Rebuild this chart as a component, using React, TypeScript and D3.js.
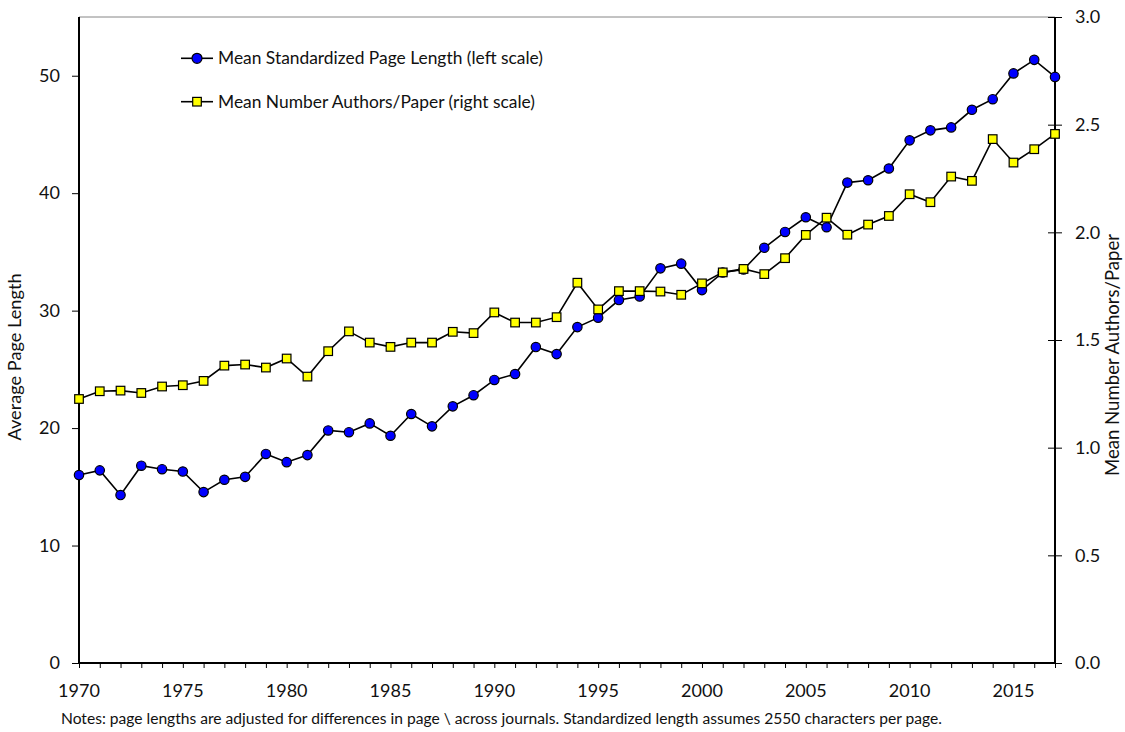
import { useEffect, useRef } from "react";
import * as d3 from "d3";

const years = [
  1970, 1971, 1972, 1973, 1974, 1975, 1976, 1977, 1978, 1979,
  1980, 1981, 1982, 1983, 1984, 1985, 1986, 1987, 1988, 1989,
  1990, 1991, 1992, 1993, 1994, 1995, 1996, 1997, 1998, 1999,
  2000, 2001, 2002, 2003, 2004, 2005, 2006, 2007, 2008, 2009,
  2010, 2011, 2012, 2013, 2014, 2015, 2016, 2017,
];

// mean standardized page length (left scale)
const pageLength = [
  16.0, 16.4, 14.3, 16.8, 16.5, 16.3, 14.55, 15.6, 15.85, 17.8,
  17.1, 17.7, 19.8, 19.65, 20.4, 19.35, 21.2, 20.15, 21.85, 22.8,
  24.1, 24.6, 26.9, 26.3, 28.6, 29.4, 30.9, 31.2, 33.6, 34.0,
  31.75, 33.25, 33.5, 35.35, 36.7, 37.95, 37.1, 40.9, 41.1, 42.1,
  44.5, 45.35, 45.6, 47.1, 48.0, 50.2, 51.35, 49.9,
];

// mean number of authors per paper (right scale)
const authors = [
  1.226, 1.262, 1.265, 1.254, 1.284, 1.29, 1.31, 1.381, 1.386, 1.372,
  1.414, 1.33, 1.448, 1.54, 1.488, 1.468, 1.488, 1.488, 1.538, 1.532,
  1.628, 1.581, 1.581, 1.606, 1.766, 1.642, 1.727, 1.727, 1.725, 1.71,
  1.763, 1.814, 1.83, 1.806, 1.88, 1.988, 2.068, 1.989, 2.036, 2.076,
  2.177, 2.14, 2.259, 2.239, 2.433, 2.324, 2.386, 2.457,
];

const leftTicks = [0, 10, 20, 30, 40, 50];
const rightTicks = [0, 0.5, 1.0, 1.5, 2.0, 2.5, 3.0];
const yearLabels = [1970, 1975, 1980, 1985, 1990, 1995, 2000, 2005, 2010, 2015];

const legendLabels = [
  "Mean Standardized Page Length (left scale)",
  "Mean Number Authors/Paper (right scale)",
];

const note =
  "Notes: page lengths are adjusted for differences in page \\ across journals. Standardized length assumes 2550 characters per page.";

const FONT = "Lato, 'Open Sans', sans-serif";
const INK = "#111";

export default function App() {
  const ref = useRef<SVGSVGElement>(null);

  useEffect(() => {
    document.body.style.margin = "0";
    if (!ref.current) return;
    const svg = d3.select(ref.current);
    svg.selectAll("*").remove();

    const width = 1125;
    const height = 732;
    const margin = { top: 17, right: 70, bottom: 69, left: 79 };
    const x0 = margin.left;
    const x1 = width - margin.right;
    const y0 = height - margin.bottom;
    const y1 = margin.top;

    const x = d3.scaleLinear().domain([1970, 2017]).range([x0, x1]);
    const yL = d3.scaleLinear().domain([0, 55]).range([y0, y1]);
    const yR = d3.scaleLinear().domain([0, 3]).range([y0, y1]);

    // top border
    svg.append("line")
      .attr("x1", x0).attr("x2", x1).attr("y1", y1).attr("y2", y1)
      .attr("stroke", "#868686").attr("stroke-width", 1);

    // left axis
    const gl = svg.append("g").attr("transform", `translate(${x0},0)`);
    gl.call(d3.axisLeft(yL).tickValues(leftTicks).tickSize(7).tickPadding(12).tickFormat(d3.format("d")));
    // right axis
    const gr = svg.append("g").attr("transform", `translate(${x1},0)`);
    gr.call(d3.axisRight(yR).tickValues(rightTicks).tickSize(7).tickPadding(13).tickFormat(d3.format(".1f")));
    gr.selectAll(".tick line").attr("x1", -7);
    // bottom axis
    const gb = svg.append("g").attr("transform", `translate(0,${y0})`);
    gb.call(d3.axisBottom(x).tickValues(years).tickSize(5).tickFormat(() => ""));
    gb.selectAll(".tick line").attr("stroke", "#000").attr("stroke-width", 1);
    yearLabels.forEach((yr) => {
      gb.append("text")
        .attr("x", x(yr)).attr("y", 34)
        .attr("text-anchor", "middle")
        .attr("font-family", FONT).attr("font-size", 18).attr("fill", INK)
        .text(yr);
    });

    [gl, gr, gb].forEach((g) => {
      g.select(".domain").attr("stroke", "#000").attr("stroke-width", 2);
      g.selectAll(".tick text").attr("font-family", FONT).attr("font-size", 18).attr("fill", INK);
    });
    gb.select(".domain").attr("d", `M${x0},0H${x1}`);
    gl.select(".domain").attr("d", `M0,${y0}V${y1}`);
    gr.select(".domain").attr("d", `M0,${y0}V${y1}`);
    gl.selectAll(".tick line").attr("stroke-width", 1);
    gr.selectAll(".tick line").attr("stroke-width", 1);

    // page length line + circles
    const lineL = d3.line<number>().x((_, i) => x(years[i])).y((d) => yL(d));
    svg.append("path").attr("d", lineL(pageLength)!)
      .attr("fill", "none").attr("stroke", "#000").attr("stroke-width", 1.6);
    svg.append("g").selectAll("circle").data(pageLength).enter().append("circle")
      .attr("cx", (_, i) => x(years[i])).attr("cy", (d) => yL(d)).attr("r", 4.7)
      .attr("fill", "#0000ff").attr("stroke", "#000").attr("stroke-width", 1.2);

    // authors line + squares
    const lineR = d3.line<number>().x((_, i) => x(years[i])).y((d) => yR(d));
    svg.append("path").attr("d", lineR(authors)!)
      .attr("fill", "none").attr("stroke", "#000").attr("stroke-width", 1.6);
    const s = 8.6;
    svg.append("g").selectAll("rect").data(authors).enter().append("rect")
      .attr("x", (_, i) => x(years[i]) - s / 2).attr("y", (d) => yR(d) - s / 2)
      .attr("width", s).attr("height", s)
      .attr("fill", "#ffff00").attr("stroke", "#000").attr("stroke-width", 1.2);

    // legend
    const lg = svg.append("g");
    legendLabels.forEach((label, i) => {
      const ly = 58.3 + i * 43.4;
      lg.append("line").attr("x1", 181).attr("x2", 213).attr("y1", ly).attr("y2", ly)
        .attr("stroke", "#000").attr("stroke-width", 1.6);
      if (i === 0) {
        lg.append("circle").attr("cx", 197).attr("cy", ly).attr("r", 5)
          .attr("fill", "#0000ff").attr("stroke", "#000").attr("stroke-width", 1.2);
      } else {
        lg.append("rect").attr("x", 197 - 4.3).attr("y", ly - 4.3).attr("width", 8.6).attr("height", 8.6)
          .attr("fill", "#ffff00").attr("stroke", "#000").attr("stroke-width", 1.2);
      }
      lg.append("text").attr("x", 218).attr("y", ly).attr("dy", "0.35em")
        .attr("font-family", FONT).attr("font-size", 17.4).attr("fill", INK)
        .text(label);
    });

    // axis titles
    svg.append("text")
      .attr("transform", `translate(21,357) rotate(-90)`)
      .attr("text-anchor", "middle")
      .attr("font-family", FONT).attr("font-size", 18.2).attr("fill", INK)
      .text("Average Page Length");
    svg.append("text")
      .attr("transform", `translate(1119,355) rotate(-90)`)
      .attr("text-anchor", "middle")
      .attr("font-family", FONT).attr("font-size", 18.6).attr("fill", INK)
      .text("Mean Number Authors/Paper");

    // note
    svg.append("text")
      .attr("x", 61).attr("y", 724)
      .attr("font-family", FONT).attr("font-size", 15.6).attr("fill", INK)
      .text(note);
  }, []);

  return <svg ref={ref} width={1125} height={732} style={{ display: "block", background: "#fff" }} />;
}
